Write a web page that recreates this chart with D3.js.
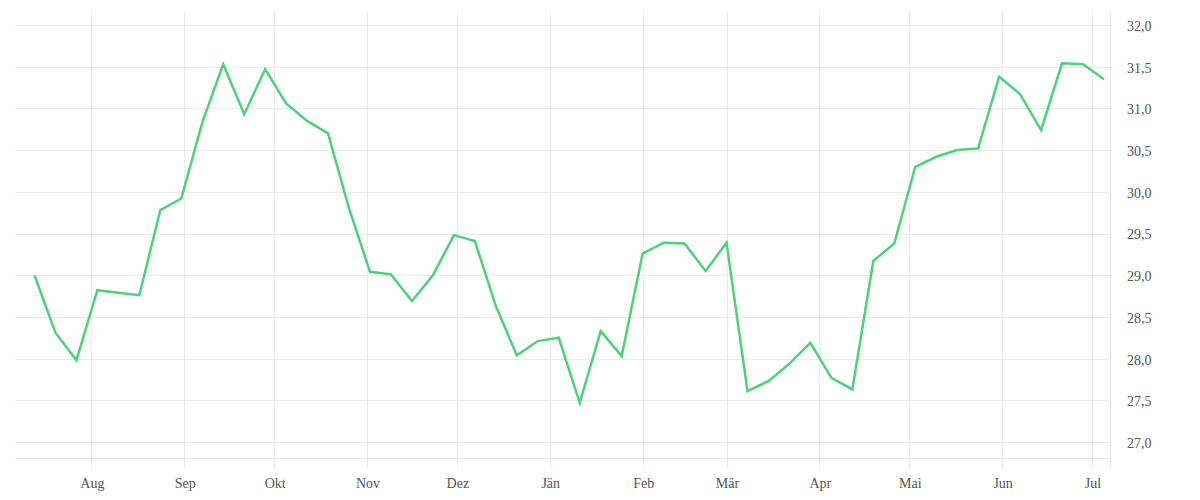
<!DOCTYPE html>
<html>
<head>
<meta charset="utf-8">
<script src="https://cdn.jsdelivr.net/npm/d3@7/dist/d3.min.js"></script>
<style>
  html, body { margin: 0; padding: 0; background: #fff; }
  svg { display: block; }
  text { font-family: "Liberation Serif", "DejaVu Serif", serif; }
</style>
</head>
<body>
<svg id="chart" width="1200" height="500"></svg>
<script>
// ---- data ----
const startDate = "2022-07-13";
const values = [
  29.00, 28.31, 27.98, 28.82, 28.79, 28.76, 29.78, 29.92, 30.83, 31.53,
  30.93, 31.47, 31.06, 30.85, 30.70, 29.80, 29.04, 29.01, 28.69, 29.00,
  29.48, 29.41, 28.63, 28.04, 28.21, 28.25, 27.47, 28.33, 28.03, 29.26,
  29.39, 29.38, 29.05, 29.39, 27.61, 27.73, 27.94, 28.19, 27.77, 27.63,
  29.17, 29.38, 30.30, 30.42, 30.50, 30.52, 31.38, 31.17, 30.74, 31.54,
  31.53, 31.35
];
const monthTicks = ["2022-08-01","2022-09-01","2022-10-01","2022-11-01","2022-12-01","2023-01-01",
                    "2023-02-01","2023-03-01","2023-04-01","2023-05-01","2023-06-01","2023-07-01"];
const monthLabels = ["Aug","Sep","Okt","Nov","Dez","Jän","Feb","Mär","Apr","Mai","Jun","Jul"];
const yTicks = [27.0, 27.5, 28.0, 28.5, 29.0, 29.5, 30.0, 30.5, 31.0, 31.5, 32.0];

(function () {
  // ---- layout ----
  const plotL = 15, plotR = 1110, plotT = 12, plotB = 458;
  const parse = d3.utcParse("%Y-%m-%d");
  const start = parse(startDate);
  const data = values.map((v, i) => ({ date: d3.utcDay.offset(start, 7 * i), value: v }));

  const x = d3.scaleUtc()
    .domain([new Date(Date.UTC(2022, 6, 6, 12)), new Date(Date.UTC(2023, 6, 7, 0))])
    .range([plotL, plotR]);
  const y = d3.scaleLinear().domain([27, 32]).range([442, 25]);

  const svg = d3.select("#chart");
  const grid = "#ebebeb";
  const textColor = "#555";

  // horizontal grid lines
  svg.append("g").selectAll("line").data(yTicks).join("line")
    .attr("x1", plotL).attr("x2", plotR)
    .attr("y1", d => Math.round(y(d)) + 0.5).attr("y2", d => Math.round(y(d)) + 0.5)
    .attr("stroke", grid).attr("stroke-width", 1);

  // bottom line
  svg.append("line").attr("x1", plotL).attr("x2", plotR).attr("y1", plotB + 0.5).attr("y2", plotB + 0.5)
    .attr("stroke", grid);

  // vertical month grid lines
  const mt = monthTicks.map(parse);
  svg.append("g").selectAll("line").data(mt).join("line")
    .attr("x1", d => Math.round(x(d)) + 0.5).attr("x2", d => Math.round(x(d)) + 0.5)
    .attr("y1", plotT).attr("y2", plotB + 10)
    .attr("stroke", grid);

  // right axis line
  svg.append("line").attr("x1", plotR + 0.5).attr("x2", plotR + 0.5).attr("y1", plotT).attr("y2", plotB + 10)
    .attr("stroke", "#e6e6e6");

  // y labels (right)
  const fmt = d => d3.format(".1f")(d).replace(".", ",");
  svg.append("g").selectAll("text").data(yTicks).join("text")
    .attr("x", plotR + 17).attr("y", d => y(d) + 1).attr("dy", "0.35em")
    .attr("font-size", 14).attr("fill", textColor)
    .text(fmt);

  // x labels
  svg.append("g").selectAll("text").data(mt).join("text")
    .attr("x", d => x(d) + 1).attr("y", 488)
    .attr("text-anchor", "middle").attr("font-size", 14).attr("fill", textColor)
    .text((d, i) => monthLabels[i]);

  // line
  const line = d3.line().x(d => x(d.date)).y(d => y(d.value));
  svg.append("path").datum(data)
    .attr("d", line)
    .attr("fill", "none")
    .attr("stroke", "#4cd27b")
    .attr("stroke-width", 2.5)
    .attr("stroke-linejoin", "miter");
})();
</script>
</body>
</html>
